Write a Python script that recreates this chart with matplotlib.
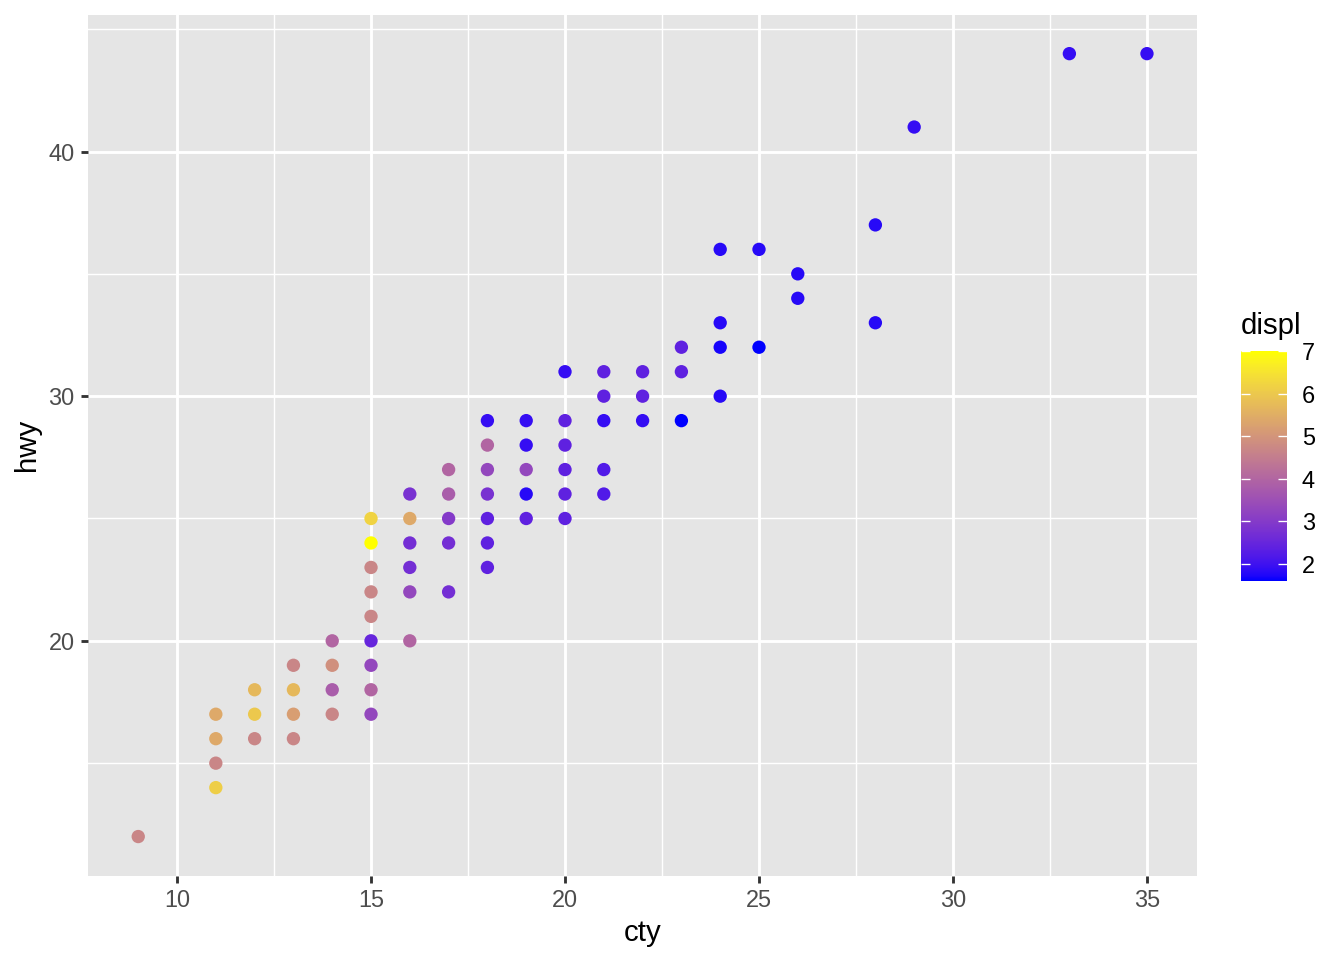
import numpy as np
import matplotlib
matplotlib.use("Agg")
import matplotlib.pyplot as plt
from matplotlib.colors import ListedColormap

plt.rcParams["font.family"] = ["Liberation Sans", "DejaVu Sans"]

# 数据（从图中读取：每个可见点的 cty / hwy / displ）
cty = [9,
       11, 11, 11, 11,
       12, 12, 12,
       13, 13, 13, 13,
       14, 14, 14, 14,
       15, 15, 15, 15, 15, 15, 15, 15, 15,
       16, 16, 16, 16, 16, 16,
       17, 17, 17, 17, 17,
       18, 18, 18, 18, 18, 18, 18,
       19, 19, 19, 19, 19,
       20, 20, 20, 20, 20, 20,
       21, 21, 21, 21, 21,
       22, 22, 22,
       23, 23, 23,
       24, 24, 24, 24,
       25, 25,
       26, 26,
       28, 28,
       29, 33, 35]
hwy = [12,
       17, 16, 15, 14,
       18, 17, 16,
       19, 18, 17, 16,
       20, 19, 18, 17,
       25, 24, 23, 22, 21, 20, 19, 18, 17,
       26, 25, 24, 23, 22, 20,
       27, 26, 25, 24, 22,
       29, 28, 27, 26, 25, 24, 23,
       29, 28, 27, 26, 25,
       31, 29, 28, 27, 26, 25,
       31, 30, 29, 27, 26,
       31, 30, 29,
       32, 31, 29,
       36, 33, 32, 30,
       36, 32,
       35, 34,
       37, 33,
       41, 44, 44]
displ = [4.7,
         5.4, 5.4, 4.7, 6.1,
         5.7, 6.0, 4.7,
         4.7, 5.7, 5.2, 4.7,
         4.0, 4.9, 3.8, 4.7,
         6.2, 7.0, 4.7, 4.7, 4.7, 2.5, 3.3, 4.0, 3.3,
         2.8, 5.4, 2.7, 2.7, 3.3, 4.0,
         4.0, 3.8, 3.0, 2.7, 2.7,
         1.9, 4.0, 3.3, 2.8, 2.4, 2.4, 2.4,
         1.9, 1.9, 3.3, 1.8, 2.4,
         1.9, 2.4, 2.4, 2.4, 2.4, 2.4,
         2.4, 2.4, 1.9, 2.2, 2.2,
         2.4, 2.4, 1.9,
         2.4, 2.4, 1.6,
         1.8, 1.8, 1.7, 1.8,
         1.8, 1.6,
         1.8, 1.8,
         1.8, 1.8,
         1.9, 1.9, 1.9]

x_ticks = [10, 15, 20, 25, 30, 35]
y_ticks = [20, 30, 40]
cb_ticks = [2, 3, 4, 5, 6, 7]

M = np.array([[0.4124, 0.3576, 0.1805], [0.2126, 0.7152, 0.0722], [0.0193, 0.1192, 0.9505]])
WHITE = np.array([0.95047, 1.0, 1.08883])


# blue -> yellow 渐变，在 Lab 空间插值（同 ggplot 的 scale_colour_gradient）
def to_lab(rgb):
    c = np.where(rgb <= 0.04045, rgb / 12.92, ((rgb + 0.055) / 1.055) ** 2.4)
    xyz = M @ c / WHITE
    d = 6 / 29
    f = np.where(xyz > d ** 3, np.cbrt(xyz), xyz / (3 * d * d) + 4 / 29)
    return np.array([116 * f[1] - 16, 500 * (f[0] - f[1]), 200 * (f[1] - f[2])])


def from_lab(lab):
    L, a, b = lab
    fy = (L + 16) / 116
    f = np.array([fy + a / 500, fy, fy - b / 200])
    d = 6 / 29
    xyz = np.where(f > d, f ** 3, 3 * d * d * (f - 4 / 29)) * WHITE
    c = np.clip(np.linalg.inv(M) @ xyz, 0, 1)
    return np.clip(np.where(c <= 0.0031308, 12.92 * c, 1.055 * c ** (1 / 2.4) - 0.055), 0, 1)


lo = to_lab(np.array([0.0, 0.0, 1.0]))
hi = to_lab(np.array([1.0, 1.0, 0.0]))
# 参考图颜色整体偏暗一些（Mac 输出的色彩管理），加一点 gamma
cmap = ListedColormap([from_lab(lo + t * (hi - lo)) ** 1.3 for t in np.linspace(0, 1, 256)])

fig = plt.figure(figsize=(7, 5), dpi=192)
ax = fig.add_axes([87.8 / 1344, 1 - 875.7 / 960, (1197.4 - 87.8) / 1344, (875.7 - 14.5) / 960])
ax.set_facecolor("#E5E5E5")

sc = ax.scatter(cty, hwy, c=displ, cmap=cmap, vmin=1.6, vmax=7.0,
                s=25, linewidths=0, zorder=3)

ax.set_xlim(7.7, 36.3)
ax.set_ylim(10.4, 45.6)
ax.set_xticks(x_ticks)
ax.set_yticks(y_ticks)
ax.set_xticks(np.arange(12.5, 35, 5), minor=True)
ax.set_yticks([15, 25, 35, 45], minor=True)
ax.grid(which="major", color="white", linewidth=1.07)
ax.grid(which="minor", color="white", linewidth=0.53)
ax.set_axisbelow(True)
for s in ax.spines.values():
    s.set_visible(False)
ax.tick_params(which="major", length=2.75, width=1.07, color="#333333",
               labelsize=8.8, labelcolor="#4D4D4D", pad=2.2)
ax.tick_params(which="minor", length=0)
ax.set_xlabel("cty", fontsize=11, labelpad=2.75)
ax.set_ylabel("hwy", fontsize=11, labelpad=2.75)

# 颜色条
cax = fig.add_axes([1241 / 1344, 1 - 581 / 960, 46 / 1344, 230 / 960])
cb = fig.colorbar(sc, cax=cax, ticks=cb_ticks)
cb.outline.set_visible(False)
cax.tick_params(direction="in", length=3.45, width=0.5, color="white",
                left=True, right=True, labelsize=8.8, labelcolor="black", pad=5.5)
fig.text(1241 / 1344, 1 - 326 / 960, "displ", fontsize=11, va="center", ha="left")

fig.savefig("out.png", dpi=192)
